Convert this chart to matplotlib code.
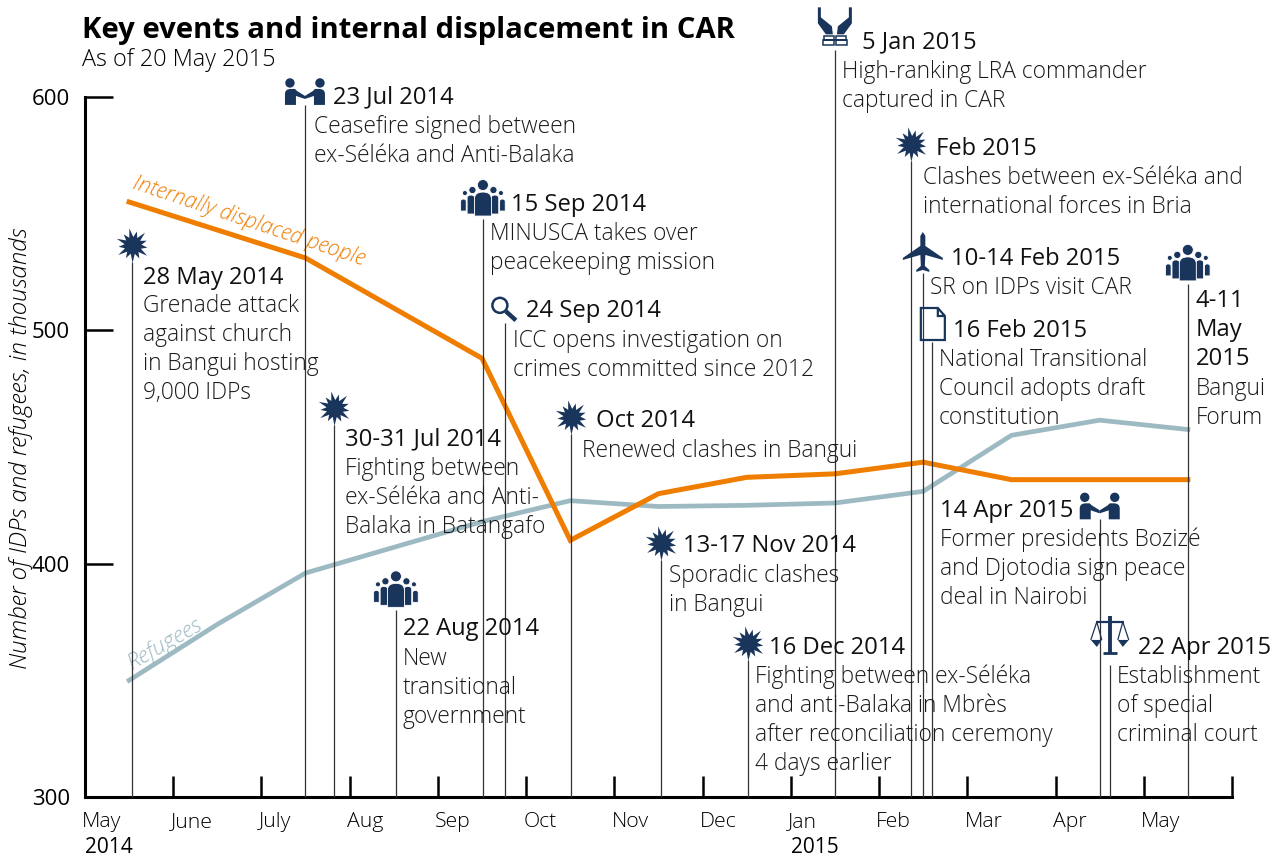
import numpy as np
import matplotlib
matplotlib.use("Agg")
import matplotlib.pyplot as plt
from matplotlib.path import Path
from matplotlib.patches import PathPatch
from matplotlib.transforms import Affine2D, ScaledTranslation

plt.rcParams['font.family'] = ['Open Sans', 'DejaVu Sans']

# months run as 0 = May 2014, one unit per month
month_labels = ['May', 'June', 'July', 'Aug', 'Sep', 'Oct', 'Nov', 'Dec', 'Jan', 'Feb', 'Mar', 'Apr', 'May', '']

idp_x = [0.5, 2.5, 4.5, 5.5, 6.5, 7.5, 8.5, 9.5, 10.5, 11.5, 12.5]
idp_y = [555, 531, 488, 410, 430, 437, 438.5, 443.5, 436, 436, 436]

ref_x = [0.5, 1.5, 2.5, 4.5, 5.5, 6.5, 7.5, 8.5, 9.5, 10.5, 11.5, 12.5]
ref_y = [350, 374, 396, 418, 427, 424.5, 425, 426, 431, 455, 461.5, 457.5]

event_x = [0.533, 2.493, 2.822, 3.524, 4.51, 4.759, 5.507, 6.527, 7.513, 8.499,
           9.36, 9.496, 9.598, 11.501, 11.615, 12.499]
event_top = [529.3, 596.6, 459.4, 380, 547.7, 503, 455.6, 401.6, 358.7, 620,
             572.6, 524.6, 495, 419, 356.6, 519.9]
event_icon = ['burst', 'shake', 'burst', 'people', 'people', 'glass', 'burst', 'burst', 'burst', 'hands',
              'burst', 'plane', 'doc', 'shake', 'scales', 'people']
event_date = ['28 May 2014', '23 Jul 2014', '30-31 Jul 2014', '22 Aug 2014', '15 Sep 2014', '24 Sep 2014',
              'Oct 2014', '13-17 Nov 2014', '16 Dec 2014', '5 Jan 2015', 'Feb 2015', '10-14 Feb 2015',
              '16 Feb 2015', '14 Apr 2015', '22 Apr 2015', '4-11\nMay\n2015']
event_text = [
    'Grenade attack\nagainst church\nin Bangui hosting\n9,000 IDPs',
    'Ceasefire signed between\nex-Séléka and Anti-Balaka',
    'Fighting between\nex-Séléka and Anti-\nBalaka in Batangafo',
    'New\ntransitional\ngovernment',
    'MINUSCA takes over\npeacekeeping mission',
    'ICC opens investigation on\ncrimes committed since 2012',
    'Renewed clashes in Bangui',
    'Sporadic clashes\nin Bangui',
    'Fighting between ex-Séléka\nand anti-Balaka in Mbrès\nafter reconciliation ceremony\n4 days earlier',
    'High-ranking LRA commander\ncaptured in CAR',
    'Clashes between ex-Séléka and\ninternational forces in Bria',
    'SR on IDPs visit CAR',
    'National Transitional\nCouncil adopts draft\nconstitution',
    'Former presidents Bozizé\nand Djotodia sign peace\ndeal in Nairobi',
    'Establishment\nof special\ncriminal court',
    'Bangui\nForum',
]

# label layout, px from the top of each stem (dx, baseline dy)
head_off = [(11, 22), (28, -2), (11, 20), (7, 25), (28, -8), (21, -6), (25, -7), (22, -8), (21, -6), (27, -2),
            (25, -6), (28, -8), (21, -5), (-160, -2), (28, -11), (8, 23)]
body_off = [(11, 50), (9, 28), (11, 50), (7, 55), (7, 21), (8, 24), (11, 23), (8, 22), (7, 23), (7, 28),
            (12, 23), (7, 21), (7, 24), (-160, 27), (7, 18), (8, 111)]

DARK = '#1a355b'
ORANGE = '#ee7d00'
BLUEGREY = '#9dbac3'
LINE_H = 29

fig = plt.figure(figsize=(12.78, 8.56), dpi=100)
ax = fig.add_axes([85 / 1278, 1 - 797 / 856, (1232 - 85) / 1278, 700 / 856])
ax.set_xlim(0, 13)
ax.set_ylim(300, 600)
ax.patch.set_alpha(0)
for s in ['top', 'right']:
    ax.spines[s].set_visible(False)
ax.spines['left'].set_linewidth(2.2)
ax.spines['bottom'].set_linewidth(2.2)

ax.set_yticks([300, 400, 500, 600])
ax.tick_params(axis='y', direction='in', length=20, width=1.8, labelsize=16, pad=11)
ax.set_xticks(range(14))
ax.set_xticklabels(month_labels, ha='left')
ax.tick_params(axis='x', direction='in', length=15, width=1.8, labelsize=15.3, pad=11, color='black')
shift = ScaledTranslation(-2 / 72, 0, fig.dpi_scale_trans)
for lab in ax.get_xticklabels():
    lab.set_fontweight(300)
    lab.set_transform(lab.get_transform() + shift)
ax.annotate('2014', (0, 300), xytext=(0, -40), textcoords='offset points', fontsize=15, fontweight=500, va='baseline')
ax.annotate('2015', (8, 300), xytext=(0, -40), textcoords='offset points', fontsize=15, fontweight=500, va='baseline')

fig.text(82 / 1278, 1 - 38 / 856, 'Key events and internal displacement in CAR', fontsize=21.1, fontweight='bold')
fig.text(82 / 1278, 1 - 66 / 856, 'As of 20 May 2015', fontsize=16.8, fontweight=300)
fig.text(21 / 1278, 1 - 448 / 856, 'Number of IDPs and refugees, in thousands', rotation=90, style='italic',
         fontsize=17.4, fontweight=300, va='center', ha='center')

ax.plot(ref_x, ref_y, color=BLUEGREY, lw=3.4, solid_joinstyle='miter', zorder=2)
ax.plot(idp_x, idp_y, color=ORANGE, lw=3.6, solid_joinstyle='miter', zorder=2.1)
ax.annotate('Internally displaced people', (0.55, 563.5), color=ORANGE, style='italic', fontsize=15.6, fontweight=300,
            rotation=-18.5, rotation_mode='anchor', va='center', ha='left')
ax.annotate('Refugees', (0.5, 357), color=BLUEGREY, style='italic', fontsize=16.2, fontweight=300, rotation=30,
            rotation_mode='anchor', va='center', ha='left')


def person(cx, top, hw, bottom):
    # rounded shoulders, y down
    return Path([(cx - hw, bottom), (cx - hw, top + hw * 0.8), (cx - hw, top), (cx, top), (cx + hw, top),
                 (cx + hw, top + hw * 0.8), (cx + hw, bottom), (cx - hw, bottom)],
                [1, 2, 3, 3, 3, 3, 2, 79])


def dot(cx, cy, r):
    return Path.circle((cx, cy), r)


def mirror(p):
    return p.transformed(Affine2D().scale(-1, 1))


def icon_parts(kind):
    # returns (filled paths, [(stroked path, lw)])
    if kind == 'burst':
        ang = np.linspace(0, 2 * np.pi, 26, endpoint=False) + 0.15
        rad = np.where(np.arange(26) % 2 == 0, 17.5, 8.5)
        rad[::4] = 14.5
        pts = np.c_[1 + rad * np.cos(ang), -16.5 + rad * np.sin(ang)]
        return [Path(np.vstack([pts, pts[0]]), closed=True)], []
    if kind == 'people':
        fill = []
        for sx in (-1, 1):
            fill += [dot(sx * 18, -26, 2.5), person(sx * 19.5, -20, 2.8, -8),
                     dot(sx * 10.5, -29, 3.6), person(sx * 12, -24, 3.8, -5)]
        return fill + [dot(0, -34, 5.5), person(0, -27, 8.5, -3)], []
    if kind == 'shake':
        arm = Path([(-20, 0), (-20, -11), (-20, -16), (-14, -16), (-10, -16), (-8, -14), (0, -9), (0, -6),
                    (-9, -9), (-9, 0), (-20, 0)], [1, 2, 3, 3, 2, 2, 2, 2, 2, 2, 79])
        return [dot(-15, -22, 4.7), dot(15, -22, 4.7), arm, mirror(arm)], []
    if kind == 'hands':
        hand = Path([(-17, -43), (-14, -43), (-14, -33), (-3, -24), (-2, -16), (-9, -16), (-17, -27), (-17, -43)],
                    [1, 2, 2, 2, 2, 2, 2, 79])
        cuff = Path([(-11, -14), (-1, -14), (-1, -10), (-11, -10), (-11, -14),
                     (-12, -10), (-1, -10), (-1, -5), (-12, -5), (-12, -10)],
                    [1, 2, 2, 2, 79, 1, 2, 2, 2, 79])
        return [hand, mirror(hand)], [(cuff, 1.1), (mirror(cuff), 1.1)]
    if kind == 'plane':
        half = [(0, -41), (2.5, -37), (2.5, -27), (20, -15), (20, -13), (2.5, -18), (2, -7), (6.5, -3), (6.5, -1),
                (0, -3)]
        left = [(-x, y) for x, y in half[-2:0:-1]]
        pts = half + left + [half[0]]
        return [Path(pts, closed=True)], []
    if kind == 'doc':
        sheet = Path([(-11, -34), (6, -34), (13, -26), (13, -2), (-11, -2), (-11, -34),
                      (6, -34), (6, -26), (13, -26)], [1, 2, 2, 2, 2, 79, 1, 2, 2])
        return [], [(sheet, 1.6)]
    if kind == 'glass':
        return [], [(dot(-5, -18, 7.5), 1.8), (Path([(1, -12), (11, -3)]), 3.2)]
    if kind == 'scales':
        pan = Path([(-19, -25), (-13, -18), (-8, -25), (-19, -25)], [1, 2, 2, 79])
        cord = Path([(-19, -25), (-13, -43), (-8, -25)])
        stroke = [(Path([(0, -49), (0, -12)]), 2.8), (Path([(-7, -12), (7, -12)]), 2),
                  (Path([(-14, -43), (14, -43)]), 1.6), (cord, 0.9),
                  (mirror(cord), 0.9)]
        return [pan, mirror(pan)], stroke
    return [], []


def draw_icon(kind, x, y):
    origin = ax.transData.transform((x, y))
    tr = Affine2D().scale(1, -1).translate(*origin)
    fill, stroke = icon_parts(kind)
    edge = 'white' if kind == 'people' else 'none'
    for p in fill:
        ax.add_patch(PathPatch(p, transform=tr, fc=DARK, ec=edge, lw=0.6, clip_on=False, zorder=5))
    for p, w in stroke:
        ax.add_patch(PathPatch(p, transform=tr, fc='none', ec=DARK, lw=w, clip_on=False, zorder=5))


def add_lines(text, x, y, off, step, **kw):
    for i, line in enumerate(text.split('\n')):
        ax.annotate(line, (x, y), xytext=(off[0] * 0.72, -(off[1] + i * step) * 0.72), textcoords='offset points',
                    va='baseline', ha='left', annotation_clip=False, zorder=6, **kw)


for i in range(len(event_x)):
    ax.plot([event_x[i], event_x[i]], [300, event_top[i]], color='#333333', lw=0.9, clip_on=False, zorder=3,
            solid_capstyle='butt')
    draw_icon(event_icon[i], event_x[i], event_top[i])
    add_lines(event_date[i], event_x[i], event_top[i], head_off[i], LINE_H, fontsize=17.1, fontweight=500, color='#111111')
    add_lines(event_text[i], event_x[i], event_top[i], body_off[i], LINE_H, fontsize=16.4, fontweight=300, color='#1a1a1a')

fig.savefig('out.png', dpi=100)
